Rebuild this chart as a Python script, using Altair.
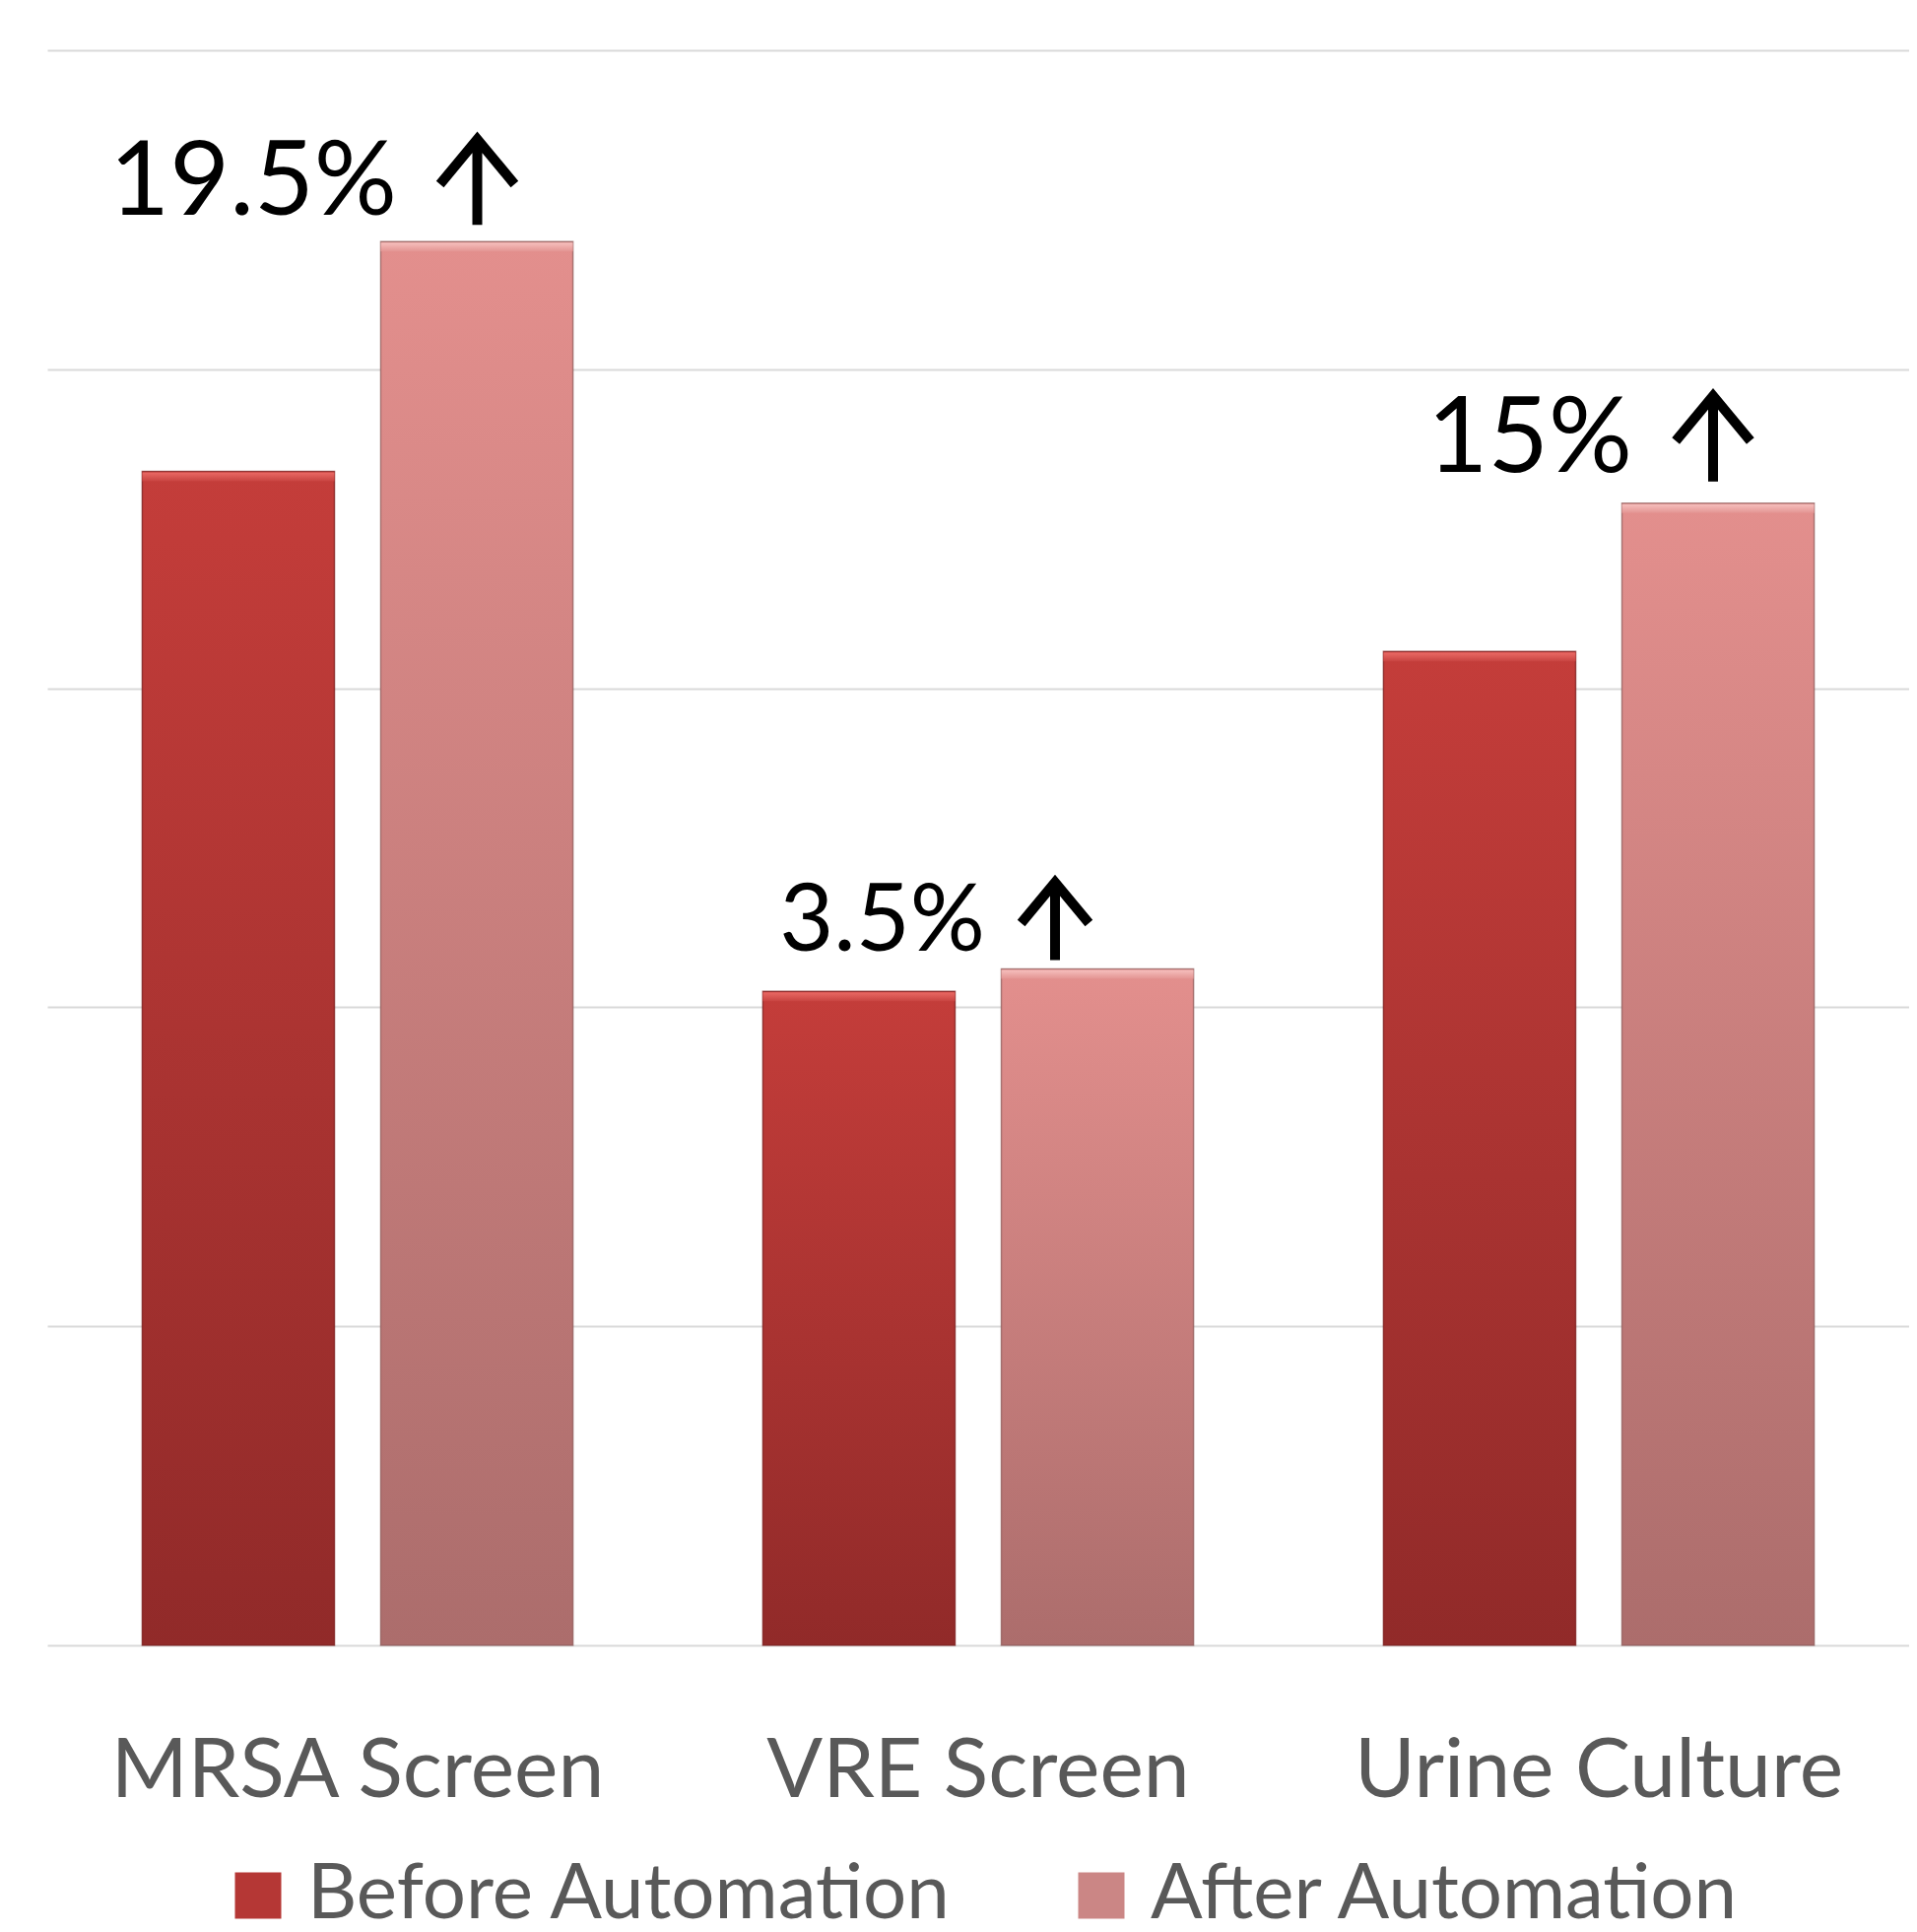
import altair as alt
import pandas as pd

# ---- data ----
categories = ["MRSA Screen", "VRE Screen", "Urine Culture"]
series = ["Before Automation", "After Automation"]
before_values = [3.68, 2.05, 3.115]
after_values = [4.40, 2.12, 3.58]
change_labels = ["19.5%", "3.5%", "15%"]

rows = []
for c, b, a in zip(categories, before_values, after_values):
    rows.append({"category": c, "series": series[0], "value": b})
    rows.append({"category": c, "series": series[1], "value": a})
df = pd.DataFrame(rows)
ann = pd.DataFrame({"category": categories, "value": after_values, "label": change_labels})

FONT = "Lato"
LABEL_COLOR = "#595959"

x_scale = alt.Scale(domain=categories, paddingInner=0.306, paddingOuter=0.153)
off_scale = alt.Scale(domain=series, paddingInner=0.194, paddingOuter=0)
y_scale = alt.Scale(domain=[0, 5], nice=False)

x_enc = alt.X(
    "category:N", scale=x_scale, sort=None,
    axis=alt.Axis(title=None, labelFontSize=84, labelColor=LABEL_COLOR, labelFont=FONT,
                  labelPadding=153, labelBaseline="alphabetic", ticks=False, domain=False,
                  labelAngle=0, grid=False, labelLimit=1000),
)
y_enc = alt.Y(
    "value:Q", scale=y_scale,
    axis=alt.Axis(title=None, labels=False, ticks=False, domain=False,
                  values=[0, 1, 2, 3, 4, 5], grid=True, gridColor="#D9D9D9", gridWidth=2),
)
off_enc = alt.XOffset("series:N", scale=off_scale, sort=None)


def grad(top, bottom):
    return alt.LinearGradient(
        gradient="linear", x1=0, x2=0, y1=0, y2=1,
        stops=[alt.GradientStop(color=top, offset=0), alt.GradientStop(color=bottom, offset=1)],
    )


base = alt.Chart(df).mark_bar().encode(
    x=x_enc, xOffset=off_enc, y=y_enc,
    color=alt.Color(
        "series:N",
        scale=alt.Scale(domain=series, range=["#B53735", "#CB8685"]),
        legend=alt.Legend(
            title=None, orient="none", direction="horizontal", legendX=175, legendY=1834,
            symbolType="square", symbolSize=2210, symbolStrokeWidth=0,
            labelFontSize=78, labelFont=FONT, labelColor=LABEL_COLOR,
            labelOffset=11, columnPadding=112, labelLimit=2000,
        ),
    ),
)

fills = {
    series[0]: (grad("#C43D3A", "#912A29"), "#7A2222", grad("#EE6E69", "#C94542")),
    series[1]: (grad("#E38F8D", "#AC6D6C"), "#8E5E5D", grad("#F8C4C2", "#E39593")),
}
overlays = []
for s in series:
    g, st, bevel = fills[s]
    sub = alt.Chart(df).transform_filter(alt.datum.series == s)
    overlays.append(
        sub.mark_bar(fill=g, stroke=st, strokeWidth=1.5, strokeOpacity=0.7)
        .encode(x=x_enc, xOffset=off_enc, y=y_enc)
    )
    overlays.append(
        sub.mark_bar(fill=bevel, y2Offset=10, yOffset=1, opacity=0.9)
        .encode(x=x_enc, xOffset=off_enc, y=y_enc, y2="value:Q")
    )

ARROW = "M0,1L0,-1M-0.87,0.05L0,-1L0.87,0.05"
# per annotation: text dx, text dy, text size, arrow dx, arrow dy, arrow size
ann_style = {
    "MRSA Screen": (40, -27, 105, 121.5, -60.5, 7569),
    "VRE Screen": (7, -19, 95, 78, -48.5, 6241),
    "Urine Culture": (34, -32, 106, 116, -65.5, 7569),
}
ann_layers = []
for cat in categories:
    tdx, tdy, tsize, adx, ady, asize = ann_style[cat]
    sub = alt.Chart(ann).transform_filter(alt.datum.category == cat)
    ann_layers.append(
        sub.mark_text(align="right", baseline="alphabetic", dx=tdx, dy=tdy,
                      fontSize=tsize, font=FONT, color="#000000")
        .encode(x=x_enc, y=y_enc, text="label:N")
    )
    ann_layers.append(
        sub.mark_point(shape=ARROW, size=asize, filled=False, stroke="#000000",
                       strokeWidth=10, strokeCap="butt", strokeJoin="miter",
                       opacity=1, xOffset=adx, yOffset=ady)
        .encode(x=x_enc, y=y_enc)
    )

chart = (
    alt.layer(base, *overlays, *ann_layers)
    .properties(width=1890, height=1619, background="white",
                padding={"left": 40, "top": 43, "right": 0, "bottom": 0})
    .configure_view(strokeWidth=0, strokeOpacity=0)
)

chart.save("out.html", embed_options={"renderer": "svg", "actions": False})
